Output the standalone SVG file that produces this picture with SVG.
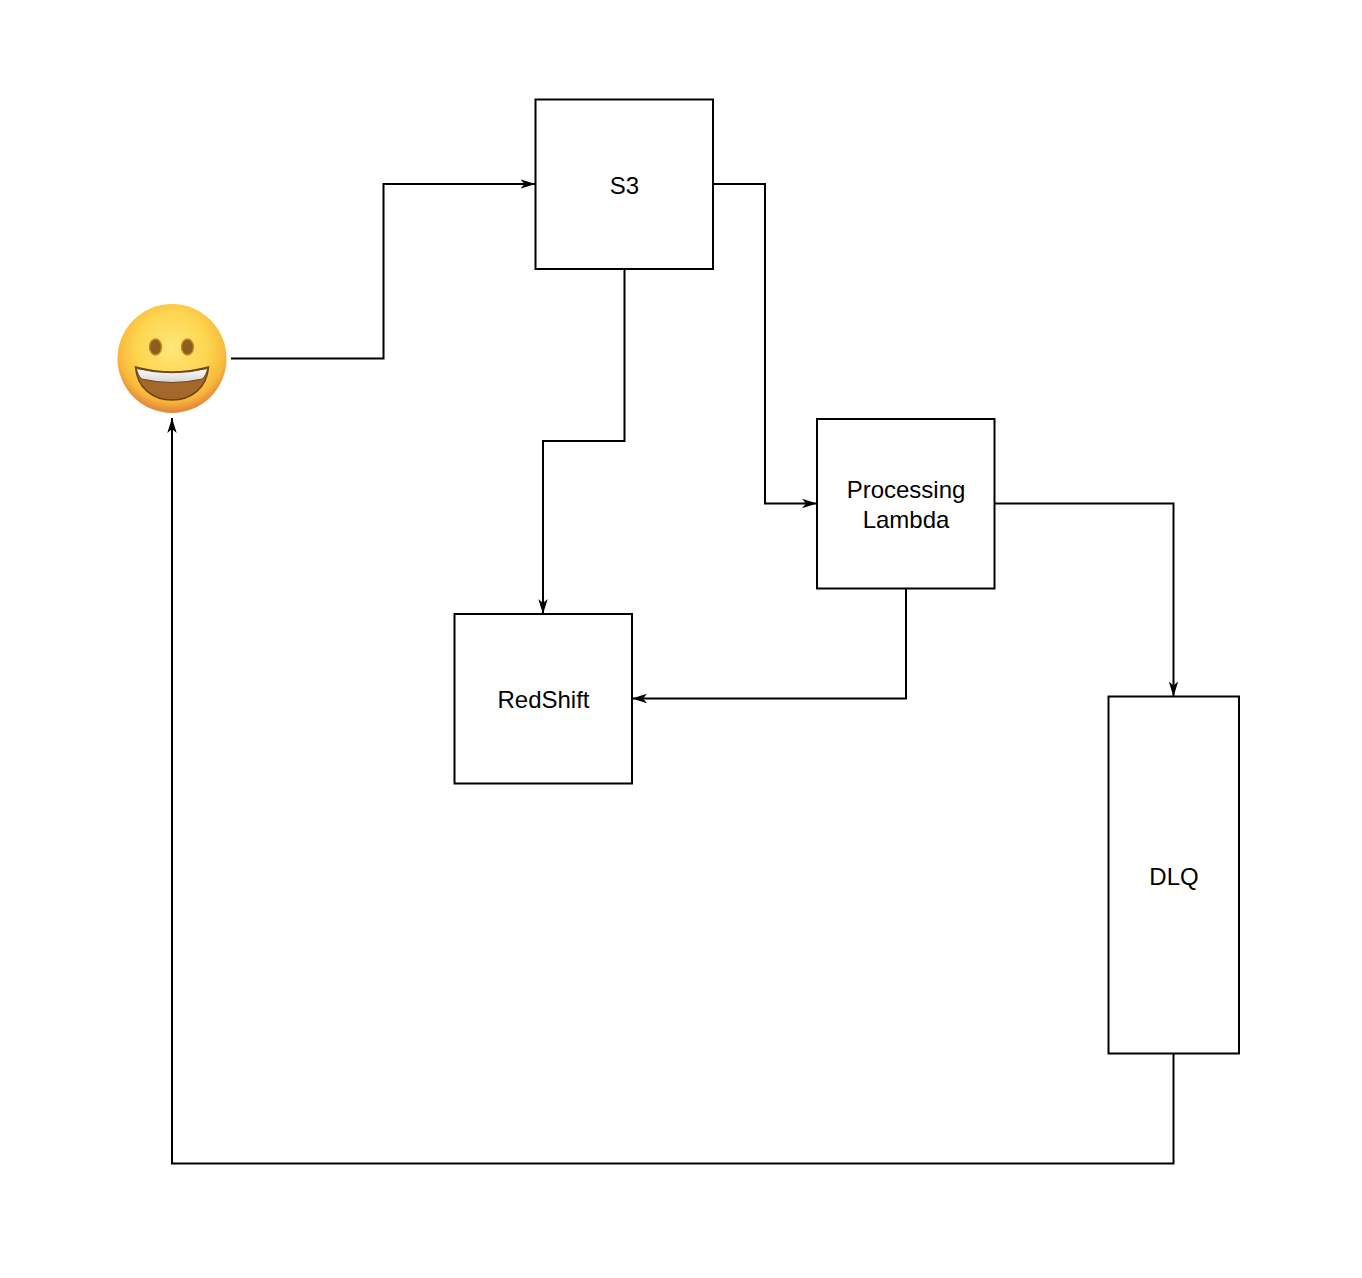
<svg xmlns="http://www.w3.org/2000/svg" width="1362" height="1278" viewBox="0 0 1362 1278">
<style>
.box{fill:#fff;stroke:#000;stroke-width:2}
.edge{fill:none;stroke:#000;stroke-width:2}
text{font-family:"Liberation Sans",Arial,sans-serif;font-size:24px;fill:#000;text-anchor:middle}
</style>
<defs>
<marker id="arrow" markerUnits="userSpaceOnUse" markerWidth="18" markerHeight="14" refX="15" refY="7" orient="auto">
<path d="M0 2.300 L15 7 L0 11.700 L4 7 Z" fill="#000"/>
</marker>
<radialGradient id="face" cx="50%" cy="40%" r="58%">
<stop offset="0" stop-color="#ffe77a"/><stop offset=".55" stop-color="#fdd650"/><stop offset=".85" stop-color="#f8b93a"/><stop offset="1" stop-color="#e58a3c"/>
</radialGradient>
<linearGradient id="teeth" x1="0" y1="0" x2="0" y2="1"><stop offset="0" stop-color="#fff"/><stop offset="1" stop-color="#d4d4d4"/></linearGradient>
</defs>
<rect width="1362" height="1278" fill="#fff"/>
<g id="connectors">
<path class="edge" marker-end="url(#arrow)" d="M231 358.500H383.500V184H535.500"/>
<path class="edge" marker-end="url(#arrow)" d="M713 184H765V503.500H817"/>
<path class="edge" marker-end="url(#arrow)" d="M624.500 269V441H543V614"/>
<path class="edge" marker-end="url(#arrow)" d="M995 503.500H1173.500V696.500"/>
<path class="edge" marker-end="url(#arrow)" d="M906 588.500V698.500H632"/>
<path class="edge" marker-end="url(#arrow)" d="M1173.500 1053.500V1163.500H172V418"/>
</g>
<g id="user">
<circle cx="172" cy="358.500" r="54.500" fill="url(#face)"/>
<ellipse cx="155.500" cy="347" rx="6" ry="8" fill="#8f5c1f" stroke="#c08a22" stroke-width="1.500"/>
<ellipse cx="187.500" cy="347" rx="6" ry="8" fill="#8f5c1f" stroke="#c08a22" stroke-width="1.500"/>
<path d="M135.500 367Q172 377 208.500 367C207 388 191 400 172 400C153 400 137 388 135.500 367Z" fill="#a4692a" stroke="#6f4212" stroke-width="1.500"/>
<path d="M136.500 368.500Q172 377 207.500 368.500C207 373 205 376 202.500 379Q172 386 141.500 379C139 376 137 373 136.500 368.500Z" fill="url(#teeth)" stroke="#6f4212" stroke-width="1"/>
</g>
<g id="s3"><rect class="box" x="535.500" y="99.500" width="177.500" height="169.500"/><text x="624.500" y="194">S3</text></g>
<g id="lambda"><rect class="box" x="817" y="419" width="177.500" height="169.500"/><text x="906" y="498">Processing</text><text x="906" y="528">Lambda</text></g>
<g id="redshift"><rect class="box" x="454.500" y="614" width="177.500" height="169.500"/><text x="543.500" y="708">RedShift</text></g>
<g id="dlq"><rect class="box" x="1108.500" y="696.500" width="130.500" height="357"/><text x="1174" y="885">DLQ</text></g>
</svg>
